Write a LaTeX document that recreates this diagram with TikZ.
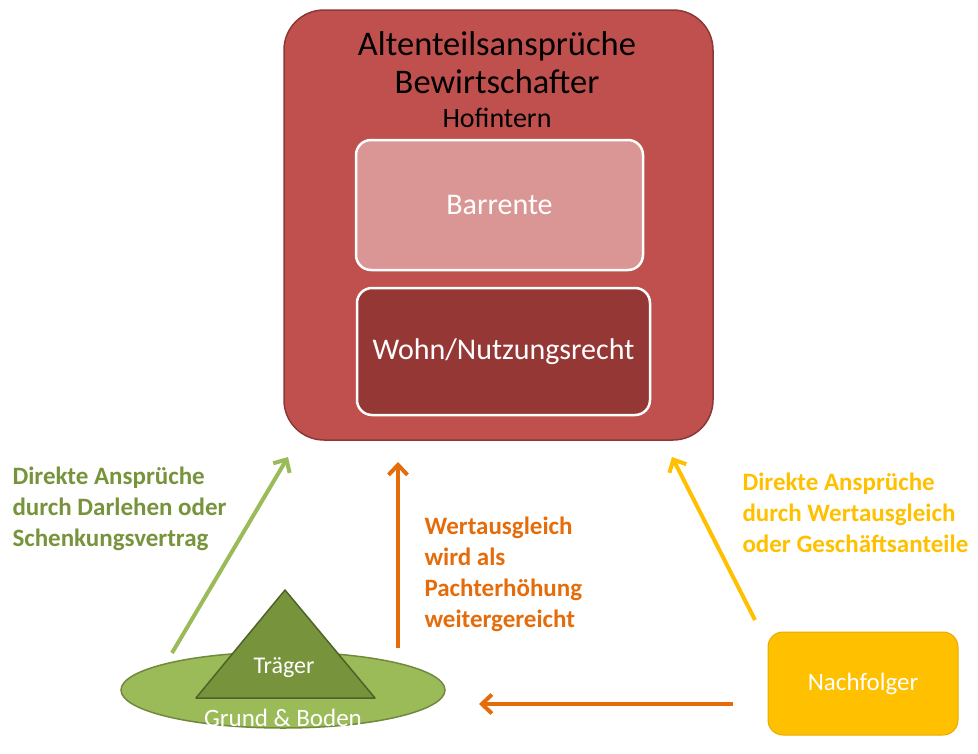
\documentclass[tikz,border=0pt]{standalone}
\usepackage{fontspec}
\setmainfont{Carlito}
\usepackage{tikz}
\usetikzlibrary{shapes.geometric,arrows.meta}
\definecolor{hofred}{RGB}{192, 80, 77}
\definecolor{hofredline}{RGB}{140, 56, 54}
\definecolor{rentepink}{RGB}{217, 150, 148}
\definecolor{wohndark}{RGB}{149, 55, 53}
\definecolor{bodengreen}{RGB}{155, 187, 89}
\definecolor{bodenline}{RGB}{113, 137, 62}
\definecolor{traegergreen}{RGB}{119, 147, 60}
\definecolor{traegerline}{RGB}{79, 98, 40}
\definecolor{pachtorange}{RGB}{228, 108, 10}
\definecolor{folgeryellow}{RGB}{255, 192, 0}
\definecolor{folgerline}{RGB}{230, 172, 0}

\begin{document}
\begin{tikzpicture}[x=1pt, y=-1pt,
    innerbox/.style={draw=white, line width=2.5pt, rounded corners=15pt, inner sep=0pt,
        text=white, font=\fontsize{30}{36}\selectfont},
    flowarrow/.style={line width=4pt, -{Straight Barb[length=10pt, width=19pt]}},
    claimlabel/.style={anchor=west, align=left, font=\fontsize{25}{31}\selectfont\bfseries}]
\useasboundingbox (0,0) rectangle (978,753);

% Altenteil block
\node[draw=hofredline, fill=hofred, line width=1.5pt, rounded corners=40pt,
      minimum width=429pt, minimum height=430pt] (hof) at (498.5,225) {};
\node[align=center, font=\fontsize{34.5}{38}\selectfont] (titel) at (497,80)
    {Altenteilsansprüche\\Bewirtschafter\\[-4pt]{\fontsize{28}{30}\selectfont Hofintern}};
\node[innerbox, fill=rentepink, minimum width=287pt, minimum height=130pt] (barrente) at (499.5,205) {Barrente};
\node[innerbox, fill=wohndark, minimum width=293pt, minimum height=127pt] (wohnrecht) at (503.5,351.5) {Wohn/Nutzungsrecht};

% Grund & Boden
\node[ellipse, draw=bodenline, fill=bodengreen, line width=1.5pt, inner sep=0pt,
      minimum width=324pt, minimum height=76pt] (boden) at (283,690) {};
\draw[traegerline, fill=traegergreen, line width=1.5pt, line join=round]
    (285,590) -- (196,698) -- (375,698) -- cycle;
\node[text=white, font=\fontsize{24}{28}\selectfont] (traeger) at (284,668) {Träger};
\node[text=white, font=\fontsize{25}{30}\selectfont] (grund) at (283,718) {Grund \& Boden};

% Nachfolger
\node[draw=folgerline, fill=folgeryellow, line width=1pt, rounded corners=15pt,
      minimum width=190pt, minimum height=103pt, text=white,
      font=\fontsize{25}{30}\selectfont] (nachfolger) at (863,683.5) {Nachfolger};

% Pfeile
\coordinate (gruenStart) at (172,653);
\coordinate (gruenEnde) at (288,457);
\coordinate (pachtStart) at (398,648);
\coordinate (pachtEnde) at (398,462);
\coordinate (gelbStart) at (755,620);
\coordinate (gelbEnde) at (672,457);
\coordinate (wertStart) at (733,704);
\coordinate (wertEnde) at (479,704);
\draw[flowarrow, bodengreen] (gruenStart) -- (gruenEnde);
\draw[flowarrow, pachtorange] (pachtStart) -- (pachtEnde);
\draw[flowarrow, folgeryellow] (gelbStart) -- (gelbEnde);
\draw[flowarrow, pachtorange] (wertStart) -- (wertEnde);

% Beschriftungen
\node[claimlabel, text=traegergreen] (darlehen) at (9,509)
    {Direkte Ansprüche\\durch Darlehen oder\\Schenkungsvertrag};
\node[claimlabel, text=pachtorange] (pacht) at (421,574)
    {Wertausgleich\\wird als\\Pachterhöhung\\weitergereicht};
\node[claimlabel, text=folgeryellow] (anteile) at (739,513)
    {Direkte Ansprüche\\durch Wertausgleich\\oder Geschäftsanteile};
\end{tikzpicture}
\end{document}
